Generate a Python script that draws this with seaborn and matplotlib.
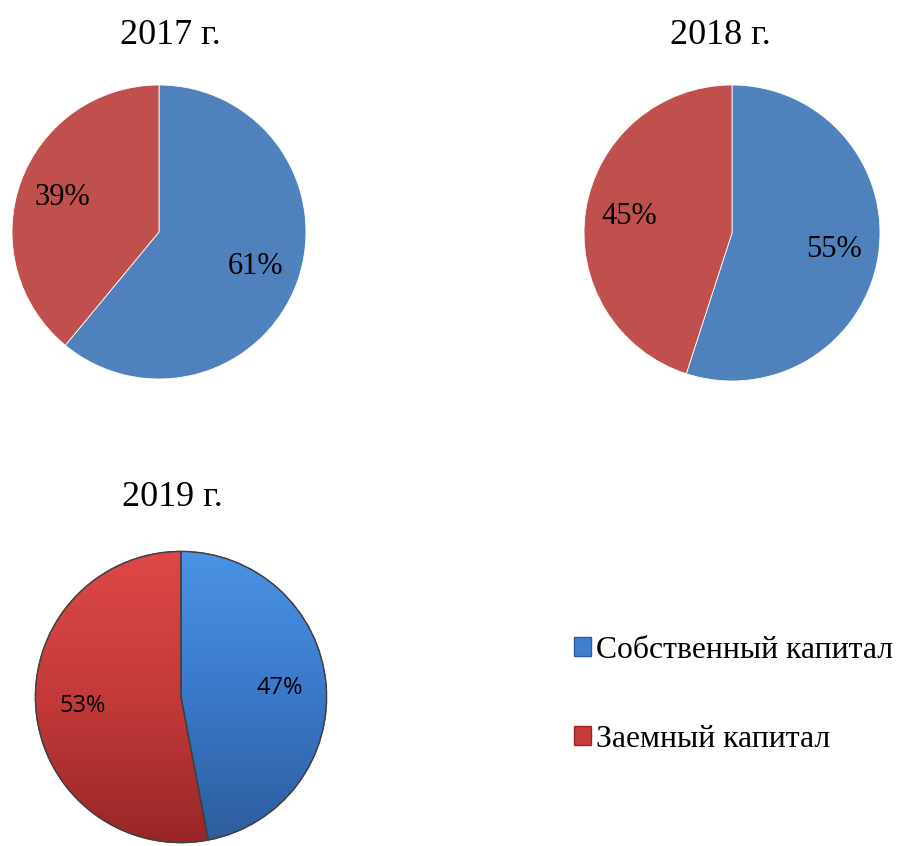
import numpy as np
import seaborn as sns
import matplotlib.pyplot as plt
from matplotlib.colors import LinearSegmentedColormap
from matplotlib.patches import Patch, Wedge

# Данные
years = ['2017 г.', '2018 г.', '2019 г.']
categories = ['Собственный капитал', 'Заемный капитал']
own_share = [61, 55, 47]
debt_share = [39, 45, 53]

sns.set_theme(style='white')
plt.rcParams['font.family'] = ['Liberation Serif', 'DejaVu Serif']
plt.rcParams['text.color'] = 'black'

W, H = 898, 846
fig = plt.figure(figsize=(W / 100, H / 100), dpi=100)

flat_colors = ['#4F81BD', '#C0504D']
# (центр x, центр y, радиус) в пикселях, заголовок (x, y)
layout = [
    ((159, 232, 147), (170, 35)),
    ((732, 233, 148), (720, 35)),
    ((181, 697, 147), (172, 497)),
]


def pie_axes(cx, cy, r):
    ax = fig.add_axes([(cx - r) / W, (H - cy - r) / H, 2 * r / W, 2 * r / H])
    ax.set_axis_off()
    return ax


for i, year in enumerate(years):
    (cx, cy, r), (tx, ty) = layout[i]
    ax = pie_axes(cx, cy, r)
    vals = [own_share[i], debt_share[i]]
    if i < 2:
        wedges, texts, autotexts = ax.pie(
            vals, colors=flat_colors, startangle=90, counterclock=False,
            radius=1, autopct=lambda p: f'{p:.0f}%', pctdistance=0.7,
            wedgeprops=dict(linewidth=0.6, edgecolor='white'),
            textprops=dict(fontsize=22, color='black'))
    else:
        wedges, texts, autotexts = ax.pie(
            vals, colors=['#3F7FCF', '#C83A3A'], startangle=90, counterclock=False,
            radius=0.99, autopct=lambda p: f'{p:.0f}%', pctdistance=0.68,
            wedgeprops=dict(linewidth=1.0, edgecolor='#404040'),
            textprops=dict(fontsize=17, color='black', family=['Open Sans', 'DejaVu Sans']))
        # градиентная заливка для объёмного вида
        grad = np.linspace(0, 1, 256).reshape(-1, 1)
        cmaps = [LinearSegmentedColormap.from_list('b', ['#4C93E6', '#3A78C8', '#2C5C9C']),
                 LinearSegmentedColormap.from_list('r', ['#DE4848', '#C43A3A', '#982626'])]
        for w, cm in zip(wedges, cmaps):
            im = ax.imshow(grad, cmap=cm, extent=[-1, 1, -1, 1], origin='upper',
                           aspect='auto', zorder=w.get_zorder() + 0.1)
            im.set_clip_path(w)
            ax.add_patch(Wedge(w.center, w.r, w.theta1, w.theta2, facecolor='none',
                               edgecolor='#404040', linewidth=1.0,
                               zorder=w.get_zorder() + 0.2))
        for t in autotexts:
            t.set_zorder(5)
    ax.set_xlim(-1, 1)
    ax.set_ylim(-1, 1)
    ax.set_aspect('auto')
    fig.text(tx / W, 1 - ty / H, year, ha='center', va='center', fontsize=26)

handles = [Patch(facecolor='#3F7FCF', edgecolor='#2C5C9C'),
           Patch(facecolor='#C83A3A', edgecolor='#982626')]
fig.legend(handles, categories, loc='center left',
           bbox_to_anchor=(574 / W, 1 - 695 / H), frameon=False,
           fontsize=22.8, handlelength=0.55, handleheight=0.55,
           handletextpad=0.15, labelspacing=1.9, borderaxespad=0, borderpad=0)

fig.savefig('out.png', dpi=100)
plt.close('all')
